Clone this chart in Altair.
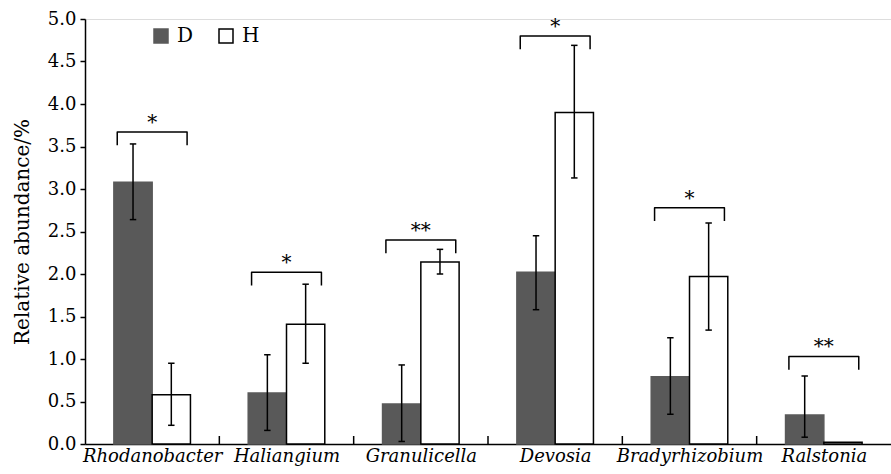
import altair as alt
import pandas as pd

categories = ["Rhodanobacter", "Haliangium", "Granulicella", "Devosia", "Bradyrhizobium", "Ralstonia"]
d_mean = [3.08, 0.60, 0.47, 2.02, 0.79, 0.34]
d_low = [2.64, 0.16, 0.03, 1.58, 0.35, 0.08]
d_high = [3.53, 1.05, 0.93, 2.45, 1.25, 0.80]
h_mean = [0.58, 1.41, 2.14, 3.90, 1.97, 0.02]
h_low = [0.22, 0.95, 2.00, 3.13, 1.34, None]
h_high = [0.95, 1.88, 2.29, 4.69, 2.60, None]
sig_labels = ["*", "*", "**", "*", "*", "**"]
bracket_top = [3.67, 2.02, 2.40, 4.80, 2.78, 1.03]
y_ticks = [0.0, 0.5, 1.0, 1.5, 2.0, 2.5, 3.0, 3.5, 4.0, 4.5, 5.0]

FONT = "DejaVu Serif"
BAR_W = 0.285
CAP = 0.024
BR_HALF = 0.26
BR_DROP = 0.155

bar_rows, cap_rows, br_rows, sig_rows = [], [], [], []
for i, c in enumerate(categories):
    center = i + 0.5
    for g, x0, x1, v, lo, hi in [
        ("D", center - BAR_W, center, d_mean[i], d_low[i], d_high[i]),
        ("H", center, center + BAR_W, h_mean[i], h_low[i], h_high[i]),
    ]:
        mid = (x0 + x1) / 2
        bar_rows.append(dict(cat=c, group=g, x0=x0, x1=x1, mid=mid, v=v, lo=lo, hi=hi))
        if lo is not None:
            for yy in (lo, hi):
                cap_rows.append(dict(xa=mid - CAP, xb=mid + CAP, y=yy))
    t = bracket_top[i]
    pts = [(center - BR_HALF, t - BR_DROP), (center - BR_HALF, t), (center + BR_HALF, t), (center + BR_HALF, t - BR_DROP)]
    for k, (px, py) in enumerate(pts):
        br_rows.append(dict(cat=c, k=k, x=px, y=py))
    sig_rows.append(dict(x=center, y=t, s=sig_labels[i]))

bars = pd.DataFrame(bar_rows)
errs = bars.dropna(subset=["lo"])
caps = pd.DataFrame(cap_rows)
brk = pd.DataFrame(br_rows)
sig = pd.DataFrame(sig_rows)
bounds = pd.DataFrame({"b": [1, 2, 3, 4, 5]})

label_expr = "[" + ",".join("'%s'" % c for c in categories) + "][floor(datum.value)]"

xscale = alt.Scale(domain=[0, 6], nice=False, zero=False)
yscale = alt.Scale(domain=[0, 5], nice=False)

xaxis = alt.Axis(values=[i + 0.5 for i in range(6)], labelExpr=label_expr, ticks=False, grid=False,
                 labelFont=FONT, labelFontSize=18, labelFontStyle="italic", labelColor="black",
                 labelAngle=0, labelPadding=3, labelOverlap=False, labelBound=False,
                 domainColor="black", domainWidth=1.5, title=None)
yaxis = alt.Axis(values=y_ticks, format=".1f", grid=False, labelFont=FONT, labelFontSize=18,
                 labelColor="black", labelPadding=4, tickSize=5, tickColor="black", tickWidth=1.5,
                 domainColor="black", domainWidth=1.5, title="Relative abundance/%",
                 titleFont=FONT, titleFontSize=20, titleFontWeight="normal", titleColor="black",
                 titlePadding=15)

legend_kw = dict(title=None, orient="none", legendX=66, legendY=7, direction="horizontal",
                 symbolType="square", symbolSize=196, symbolStrokeWidth=1.5,
                 labelFont=FONT, labelFontSize=20, labelColor="black", labelOffset=6,
                 columnPadding=22, padding=0)

bar_layer = alt.Chart(bars).mark_bar(strokeWidth=1.5).encode(
    x=alt.X("x0:Q", scale=xscale, axis=xaxis),
    x2="x1:Q",
    y=alt.Y("v:Q", scale=yscale, axis=yaxis),
    y2=alt.datum(0),
    fill=alt.Fill("group:N", scale=alt.Scale(domain=["D", "H"], range=["#595959", "#ffffff"]),
                  legend=alt.Legend(**legend_kw)),
    stroke=alt.Stroke("group:N", scale=alt.Scale(domain=["D", "H"], range=["#595959", "#000000"]),
                      legend=alt.Legend(**legend_kw)),
)

err_layer = alt.Chart(errs).mark_rule(color="black", strokeWidth=1.5).encode(
    x="mid:Q", y="lo:Q", y2="hi:Q"
)

cap_layer = alt.Chart(caps).mark_rule(color="black", strokeWidth=1.5).encode(
    x="xa:Q", x2="xb:Q", y="y:Q"
)

br_layer = alt.Chart(brk).mark_line(color="black", strokeWidth=1.5, strokeJoin="round").encode(
    x="x:Q", y="y:Q", detail="cat:N", order="k:Q"
)

sig_layer = alt.Chart(sig).mark_text(font=FONT, fontSize=20, color="black", baseline="alphabetic",
                                      align="center", dy=-3).encode(
    x="x:Q", y="y:Q", text="s:N"
)

tick_layer = alt.Chart(bounds).mark_rule(color="black", strokeWidth=1.5).encode(
    x="b:Q", y=alt.value(425), y2=alt.value(417)
)

chart = alt.layer(bar_layer, err_layer, cap_layer, br_layer, sig_layer, tick_layer).properties(
    width=806, height=425,
    autosize=alt.AutoSizeParams(type="none"),
    padding={"left": 85, "top": 19, "right": 0, "bottom": 30},
).configure_view(stroke=None).configure(background="white", font=FONT)

chart.save("out.html", embed_options={"renderer": "svg", "actions": False})
